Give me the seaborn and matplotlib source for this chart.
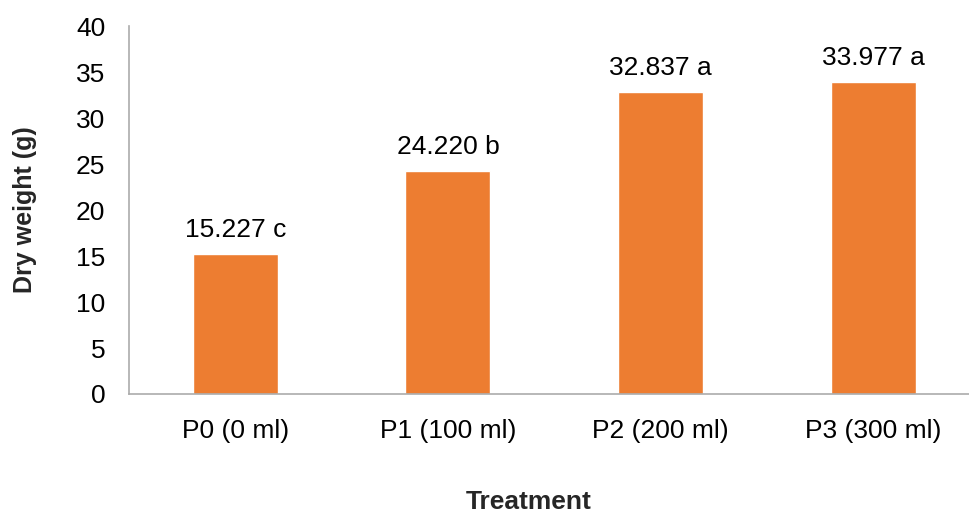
import matplotlib
matplotlib.use("Agg")
import matplotlib.pyplot as plt
import seaborn as sns
import pandas as pd

treatments = ["P0 (0 ml)", "P1 (100 ml)", "P2 (200 ml)", "P3 (300 ml)"]
dry_weight = [15.227, 24.220, 32.837, 33.977]
letters = ["c", "b", "a", "a"]
y_ticks = [0, 5, 10, 15, 20, 25, 30, 35, 40]

sns.set_theme(style="white")
plt.rcParams["font.family"] = ["Liberation Sans", "DejaVu Sans"]

df = pd.DataFrame({"Treatment": treatments, "Dry weight (g)": dry_weight})

fig = plt.figure(figsize=(9.69, 5.13), dpi=100)
# plot area runs slightly past the right edge of the figure
ax = fig.add_axes([0.133, 0.232, 0.878, 0.717])

sns.barplot(data=df, x="Treatment", y="Dry weight (g)", color="#ED7D31",
            saturation=1, width=0.40, ax=ax)

# value and significance letter above each bar
for i, (v, l) in enumerate(zip(dry_weight, letters)):
    ax.text(i, v + 1.85, f"{v:.3f} {l}", ha="center", va="baseline",
            fontsize=19, color="black")

ax.set_ylim(0, 40)
ax.set_xlim(-0.5, 3.5)
ax.set_yticks(y_ticks)
ax.tick_params(axis="both", labelsize=19, length=0, colors="black")
ax.tick_params(axis="y", pad=17)
ax.tick_params(axis="x", pad=18)

for side in ["top", "right"]:
    ax.spines[side].set_visible(False)
for side in ["left", "bottom"]:
    ax.spines[side].set_color("#ABABAB")
    ax.spines[side].set_linewidth(1.2)

ax.set_xlabel("Treatment", fontsize=19, fontweight="bold", labelpad=34)
ax.xaxis.label.set_x(0.47)
ax.set_ylabel("Dry weight (g)", fontsize=18, fontweight="bold", labelpad=28)

fig.savefig("out.png", dpi=100, facecolor="white")
